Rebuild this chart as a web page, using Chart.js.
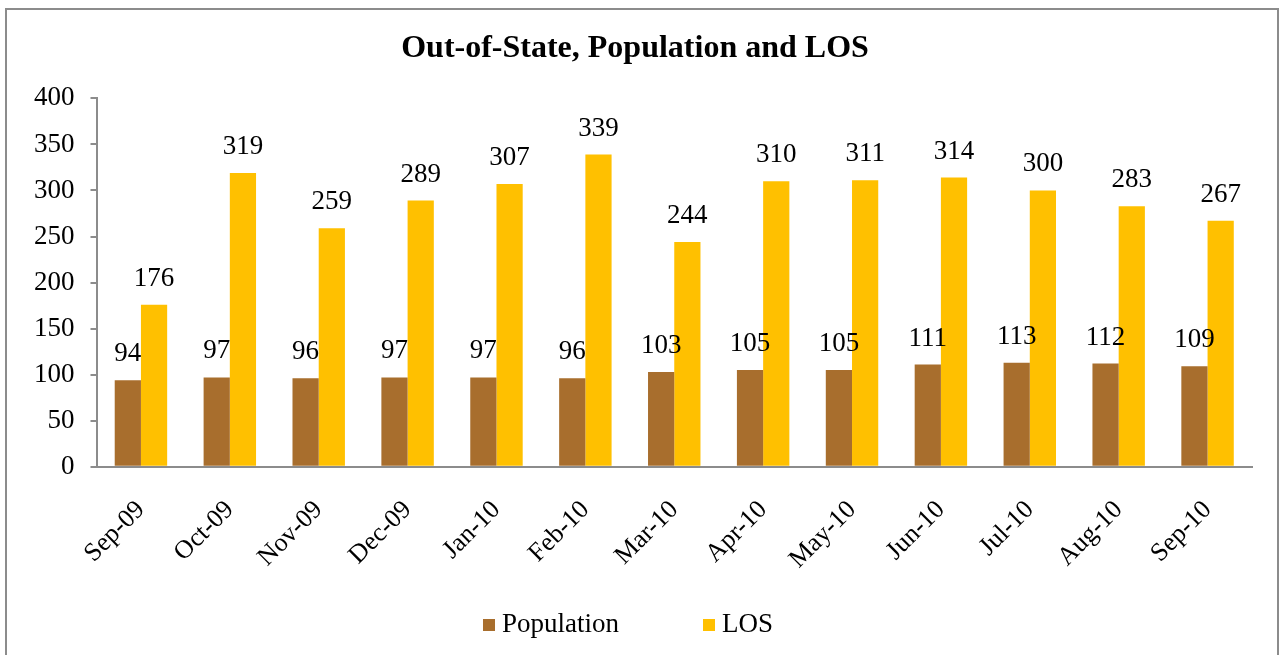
<!DOCTYPE html>
<html>
<head>
<meta charset="utf-8">
<script src="https://cdn.jsdelivr.net/npm/chart.js@4.4.0/dist/chart.umd.min.js"></script>
<style>
  html, body { margin: 0; padding: 0; background: #fff; }
  #marco {
    position: absolute; left: 5px; top: 8px; width: 1274px; height: 700px;
    border: 2px solid #8c8c8c; box-sizing: border-box;
  }
  #caja { position: absolute; left: 0; top: 0; width: 1283px; height: 655px; }
</style>
</head>
<body>
<div id="marco"></div>
<div id="caja"><canvas id="grafico"></canvas></div>
<script>
const meses = ["Sep-09", "Oct-09", "Nov-09", "Dec-09", "Jan-10", "Feb-10", "Mar-10",
               "Apr-10", "May-10", "Jun-10", "Jul-10", "Aug-10", "Sep-10"];
const poblacion = [94, 97, 96, 97, 97, 96, 103, 105, 105, 111, 113, 112, 109];
const los = [176, 319, 259, 289, 307, 339, 244, 310, 311, 314, 300, 283, 267];
const marcasY = [0, 50, 100, 150, 200, 250, 300, 350, 400];

const fuente = "'Liberation Serif', 'Times New Roman', serif";

// etiquetas de valor encima de cada barra
const etiquetasBarras = {
    id: 'etiquetasBarras',
    afterDatasetsDraw(chart) {
        const ctx = chart.ctx;
        ctx.save();
        ctx.font = '27px ' + fuente;
        ctx.fillStyle = '#000';
        ctx.textAlign = 'center';
        ctx.textBaseline = 'alphabetic';
        chart.data.datasets.forEach((ds, i) => {
            chart.getDatasetMeta(i).data.forEach((barra, j) => {
                ctx.fillText(ds.data[j], barra.x, barra.y - 19);
            });
        });
        ctx.restore();
    }
};

// leyenda abajo, con el hueco ancho entre elementos como en el original
const leyendaAbajo = {
    id: 'leyendaAbajo',
    afterDraw(chart) {
        const ctx = chart.ctx;
        ctx.save();
        ctx.font = '27px ' + fuente;
        ctx.textBaseline = 'middle';
        ctx.textAlign = 'left';
        const caja = 12, sep = 7, hueco = 84;
        const items = chart.data.datasets.map(ds => ({
            texto: ds.label, color: ds.backgroundColor,
            ancho: caja + sep + ctx.measureText(ds.label).width
        }));
        const total = items.reduce((s, it) => s + it.ancho, 0) + hueco * (items.length - 1);
        let x = 628 - total / 2;
        const y = 625;
        items.forEach(it => {
            ctx.fillStyle = it.color;
            ctx.fillRect(x, y - 6, caja, caja);
            ctx.fillStyle = '#000';
            ctx.fillText(it.texto, x + caja + sep, y);
            x += it.ancho + hueco;
        });
        ctx.restore();
    }
};

new Chart(document.getElementById('grafico'), {
    type: 'bar',
    data: {
        labels: meses,
        datasets: [
            { label: 'Population', data: poblacion, backgroundColor: '#A86E2D',
              categoryPercentage: 0.59, barPercentage: 1.0 },
            { label: 'LOS', data: los, backgroundColor: '#FFC000',
              categoryPercentage: 0.59, barPercentage: 1.0 }
        ]
    },
    options: {
        responsive: true,
        maintainAspectRatio: false,
        animation: false,
        devicePixelRatio: 1,
        layout: { padding: { left: 18, right: 31, top: 20, bottom: 60 } },
        plugins: {
            title: {
                display: true,
                text: 'Out-of-State, Population and LOS',
                color: '#000',
                font: { family: fuente, size: 32, weight: 'bold' },
                padding: { top: 10, bottom: 30 }
            },
            legend: { display: false },
            tooltip: { enabled: false }
        },
        scales: {
            x: {
                grid: { display: false },
                border: { color: '#8c8c8c', width: 2 },
                ticks: {
                    color: '#000',
                    font: { family: fuente, size: 26 },
                    maxRotation: 45, minRotation: 45,
                    padding: 20
                }
            },
            y: {
                min: 0, max: 400,
                afterBuildTicks(axis) { axis.ticks = marcasY.map(v => ({ value: v })); },
                grid: { drawOnChartArea: false, drawTicks: true, tickLength: 6, color: '#8c8c8c', lineWidth: 2 },
                border: { color: '#8c8c8c', width: 2 },
                ticks: {
                    color: '#000',
                    font: { family: fuente, size: 27 },
                    padding: 16
                }
            }
        }
    },
    plugins: [etiquetasBarras, leyendaAbajo]
});
</script>
</body>
</html>
